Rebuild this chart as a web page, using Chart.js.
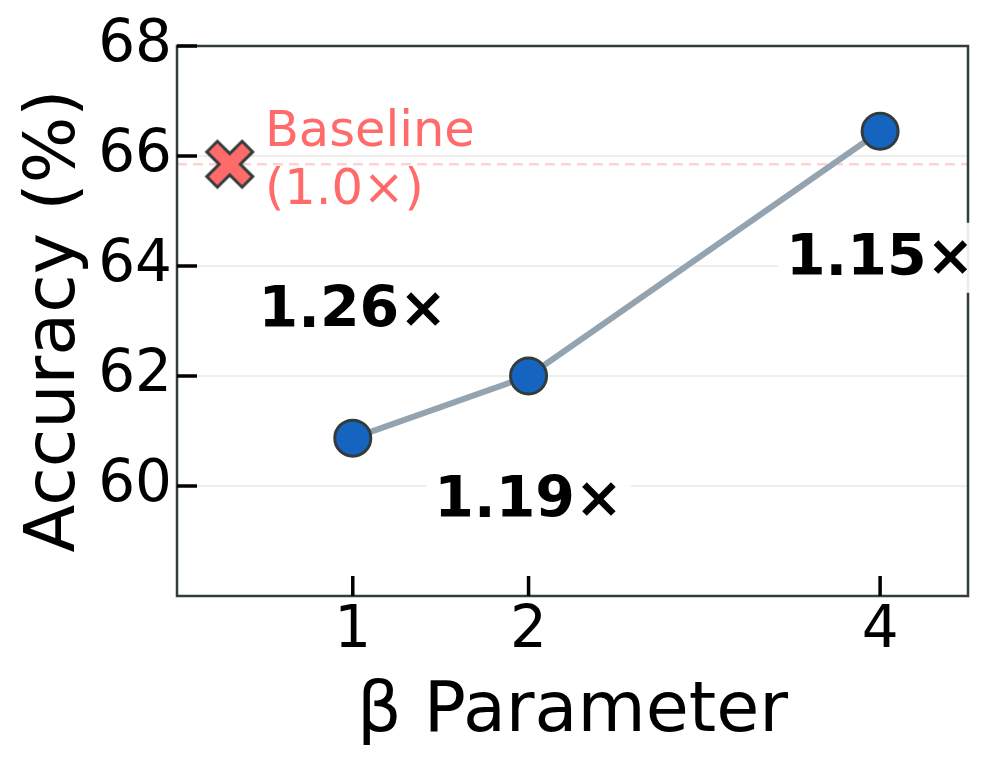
<!DOCTYPE html>
<html>
<head>
<meta charset="utf-8">
<script src="https://cdn.jsdelivr.net/npm/chart.js@4/dist/chart.umd.min.js"></script>
<style>
  html, body { margin: 0; padding: 0; background: #fff; }
  #wrap { width: 1000px; height: 777px; }
</style>
</head>
<body>
<div id="wrap"><canvas id="chart" width="1000" height="777"></canvas></div>
<script>
// =========================
// DATA
// =========================
const betaValues = [1, 2, 4];
const accuracy = [60.87, 62.0, 66.45];
const speedupLabels = ["1.26×", "1.19×", "1.15×"];
const speedupLabelY = [63.2, 59.75, 64.15];
const baselineAcc = 65.85;
const baselineX = 0.3;
const baselineText = ["Baseline", "(1.0×)"];
const baselineTextX = 0.5;
const xTicks = [1, 2, 4];
const yTicks = [60, 62, 64, 66, 68];

const FONT = "'DejaVu Sans', sans-serif";
const BASE_RED = "#FF6B6B";
const SPINE = "#333c3c";

// filled X marker for the baseline point
function makeXMarker() {
    const c = document.createElement("canvas");
    c.width = 54; c.height = 54;
    const g = c.getContext("2d");
    g.translate(27, 27);
    g.rotate(Math.PI / 4);
    const w = 7.5, L = 25;
    g.beginPath();
    g.moveTo(-w, -L); g.lineTo(w, -L); g.lineTo(w, -w); g.lineTo(L, -w);
    g.lineTo(L, w); g.lineTo(w, w); g.lineTo(w, L); g.lineTo(-w, L);
    g.lineTo(-w, w); g.lineTo(-L, w); g.lineTo(-L, -w); g.lineTo(-w, -w);
    g.closePath();
    g.fillStyle = BASE_RED;
    g.fill();
    g.lineWidth = 3;
    g.lineJoin = "miter";
    g.strokeStyle = SPINE;
    g.stroke();
    return c;
}

// =========================
// BOX, INWARD TICKS, ANNOTATIONS
// =========================
const decorPlugin = {
    id: "decor",
    afterDraw(chart) {
        const { ctx, chartArea: a, scales: { x, y } } = chart;
        ctx.save();

        // frame
        ctx.strokeStyle = SPINE;
        ctx.lineWidth = 2.5;
        ctx.strokeRect(a.left, a.top, a.right - a.left, a.bottom - a.top);

        // inward tick marks
        ctx.strokeStyle = "#000";
        ctx.lineWidth = 3.5;
        ctx.beginPath();
        yTicks.forEach(v => {
            const py = y.getPixelForValue(v);
            ctx.moveTo(a.left, py);
            ctx.lineTo(a.left + 20, py);
        });
        xTicks.forEach(v => {
            const px = x.getPixelForValue(v);
            ctx.moveTo(px, a.bottom);
            ctx.lineTo(px, a.bottom - 20);
        });
        ctx.stroke();

        // speedup labels with white boxes
        ctx.font = `bold 57px ${FONT}`;
        ctx.textAlign = "center";
        ctx.textBaseline = "middle";
        betaValues.forEach((b, i) => {
            const px = x.getPixelForValue(b);
            const py = y.getPixelForValue(speedupLabelY[i]);
            const w = ctx.measureText(speedupLabels[i]).width;
            ctx.fillStyle = "rgba(255,255,255,0.9)";
            ctx.fillRect(px - w / 2 - 8, py - 35, w + 16, 70);
            ctx.fillStyle = "#000";
            ctx.fillText(speedupLabels[i], px, py + 2);
        });

        // baseline text
        ctx.font = `49.5px ${FONT}`;
        ctx.textAlign = "left";
        ctx.fillStyle = BASE_RED;
        const bx = x.getPixelForValue(baselineTextX);
        const by = y.getPixelForValue(baselineAcc);
        ctx.fillText(baselineText[0], bx, by - 31);
        ctx.fillText(baselineText[1], bx, by + 27);

        ctx.restore();
    }
};

new Chart(document.getElementById("chart"), {
    type: "line",
    data: {
        datasets: [
            {
                label: "Baseline line",
                data: [{ x: 0, y: baselineAcc }, { x: 4.5, y: baselineAcc }],
                borderColor: "rgba(255,107,107,0.3)",
                borderWidth: 2.5,
                borderDash: [10, 6],
                pointRadius: 0,
                order: 3
            },
            {
                label: "Baseline",
                data: [{ x: baselineX, y: baselineAcc }],
                pointStyle: makeXMarker(),
                showLine: false,
                order: 1
            },
            {
                label: "Accuracy",
                data: betaValues.map((b, i) => ({ x: b, y: accuracy[i] })),
                borderColor: "#94a3b0",
                borderWidth: 6,
                pointRadius: 18,
                pointBackgroundColor: "#1565C0",
                pointBorderColor: SPINE,
                pointBorderWidth: 3,
                tension: 0,
                order: 2
            }
        ]
    },
    options: {
        responsive: false,
        animation: false,
        layout: { padding: { top: 46, right: 32, left: 0, bottom: 0 } },
        plugins: {
            legend: { display: false },
            tooltip: { enabled: false }
        },
        scales: {
            x: {
                type: "linear",
                min: 0,
                max: 4.5,
                afterBuildTicks: s => { s.ticks = xTicks.map(v => ({ value: v })); },
                afterFit: s => { s.height = 181; },
                grid: { display: false, drawTicks: false },
                border: { display: false },
                ticks: {
                    color: "#000",
                    font: { family: FONT, size: 58 },
                    padding: 1,
                    maxRotation: 0,
                    callback: v => String(v)
                },
                title: {
                    display: true,
                    text: "β Parameter",
                    color: "#000",
                    font: { family: FONT, size: 70, lineHeight: 1 },
                    padding: { top: 0, bottom: 29 }
                }
            },
            y: {
                min: 58,
                max: 68,
                afterBuildTicks: s => { s.ticks = yTicks.map(v => ({ value: v })); },
                afterFit: s => { s.width = 177; },
                grid: { color: "#eeeeee", lineWidth: 2, drawTicks: false },
                border: { display: false },
                ticks: {
                    color: "#000",
                    font: { family: FONT, size: 58 },
                    padding: 5,
                    callback: v => String(v)
                },
                title: {
                    display: true,
                    text: "Accuracy (%)",
                    color: "#000",
                    font: { family: FONT, size: 70, lineHeight: 1 },
                    padding: { top: 21, bottom: 0 }
                }
            }
        }
    },
    plugins: [decorPlugin]
});
</script>
</body>
</html>
